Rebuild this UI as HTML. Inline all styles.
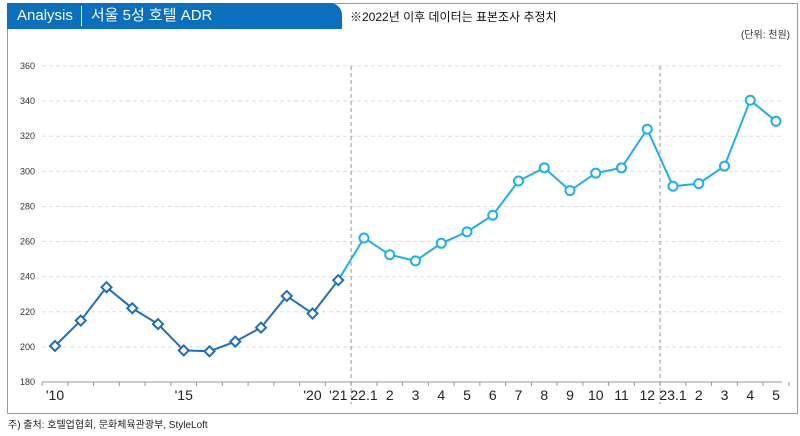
<!DOCTYPE html>
<html><head><meta charset="utf-8"><style>
body{margin:0;width:800px;height:436px;background:#fff;font-family:"Liberation Sans","Noto Sans CJK KR",sans-serif;position:relative;overflow:hidden}
.frame{position:absolute;left:7px;top:3px;width:791px;height:411px;border:1px solid #9a9a9a;box-sizing:border-box}
.hdr{position:absolute;left:7px;top:3px;width:335px;height:26px;background:#0a6fbd;border-top-right-radius:12px;color:#fff;font-size:15px;line-height:26px}
.note{position:absolute;left:350px;top:8px;font-size:12px;color:#111}
.unit{position:absolute;right:10px;top:26px;font-size:10px;color:#333}
.src{position:absolute;left:8px;top:416px;font-size:10px;color:#222}
</style></head><body>
<div class="frame"></div>
<div class="hdr"><span style="margin-left:10px">Analysis</span><span style="display:inline-block;width:1px;height:20px;background:#fff;vertical-align:middle;margin:0 9px 0 8px"></span><span>서울 5성 호텔 ADR</span></div>
<div class="note">※2022년 이후 데이터는 표본조사 추정치</div>
<div class="unit">(단위: 천원)</div>
<div class="src">주) 출처: 호텔업협회, 문화체육관광부, StyleLoft</div>
<svg id="c" width="800" height="436" style="position:absolute;left:0;top:0"></svg>
<script>
const labels=["'10","","","","","'15","","","","","'20","'21","22.1","2","3","4","5","6","7","8","9","10","11","12","23.1","2","3","4","5"];
const values=[200.5,215,234,222,213,198,197.5,203,211,229,219,238,262,252.5,249,259,265.5,275,294.5,302,289,299,302,324,291.5,293,303,340.5,328.5];
const yTicks=[180,200,220,240,260,280,300,320,340,360];
const splitIdx=[12,24];
const svg=document.getElementById('c');const NS='http://www.w3.org/2000/svg';
const x=i=>55+i*25.75, y=v=>382-(v-180)*(316/180);
function mk(t,a,p){const e=document.createElementNS(NS,t);for(const k in a)e.setAttribute(k,a[k]);(p||svg).appendChild(e);return e;}
yTicks.forEach(v=>{
 if(v>180){const g=mk('line',{x1:42,x2:782,y1:y(v),y2:y(v),stroke:'#ddd','stroke-dasharray':'4,3'});
 
 }
 const t=mk('text',{x:20,y:y(v)+3,'font-size':9,fill:'#333'});t.textContent=v;
 
 
});
const ax=mk('line',{x1:42,x2:782,y1:382,y2:382,stroke:'#999'});


for(let k=0;k<=labels.length;k++){mk('line',{x1:x(k)-12.9,x2:x(k)-12.9,y1:382,y2:386,stroke:'#999'});}
splitIdx.forEach(i=>{const d=mk('line',{x1:x(i)-12.9,x2:x(i)-12.9,y1:66,y2:404,stroke:'#999','stroke-dasharray':'4,3'});
 
 });
labels.forEach((l,i)=>{if(!l)return;const t=mk('text',{x:x(i),y:400,'font-size':14,fill:'#222','text-anchor':'middle'});t.textContent=l;
 
 });
const p1=values.slice(0,12).map((v,i)=>x(i)+','+y(v)).join(' ');
const p2=values.slice(11).map((v,i)=>x(i+11)+','+y(v)).join(' ');
const l1=mk('polyline',{points:p1,fill:'none',stroke:'#1e6fb8','stroke-width':2});


const l2=mk('polyline',{points:p2,fill:'none',stroke:'#1fb0e6','stroke-width':2});


values.forEach((v,i)=>{let m;
 if(i<12){const cx=x(i),cy=y(v);m=mk('polygon',{points:`${cx},${cy-5} ${cx+5},${cy} ${cx},${cy+5} ${cx-5},${cy}`,fill:'#fff',stroke:'#1e6fb8','stroke-width':2});}
 else m=mk('circle',{cx:x(i),cy:y(v),r:4.5,fill:'#fff',stroke:'#1fb0e6','stroke-width':2});
 
 
});
</script>
</body></html>
